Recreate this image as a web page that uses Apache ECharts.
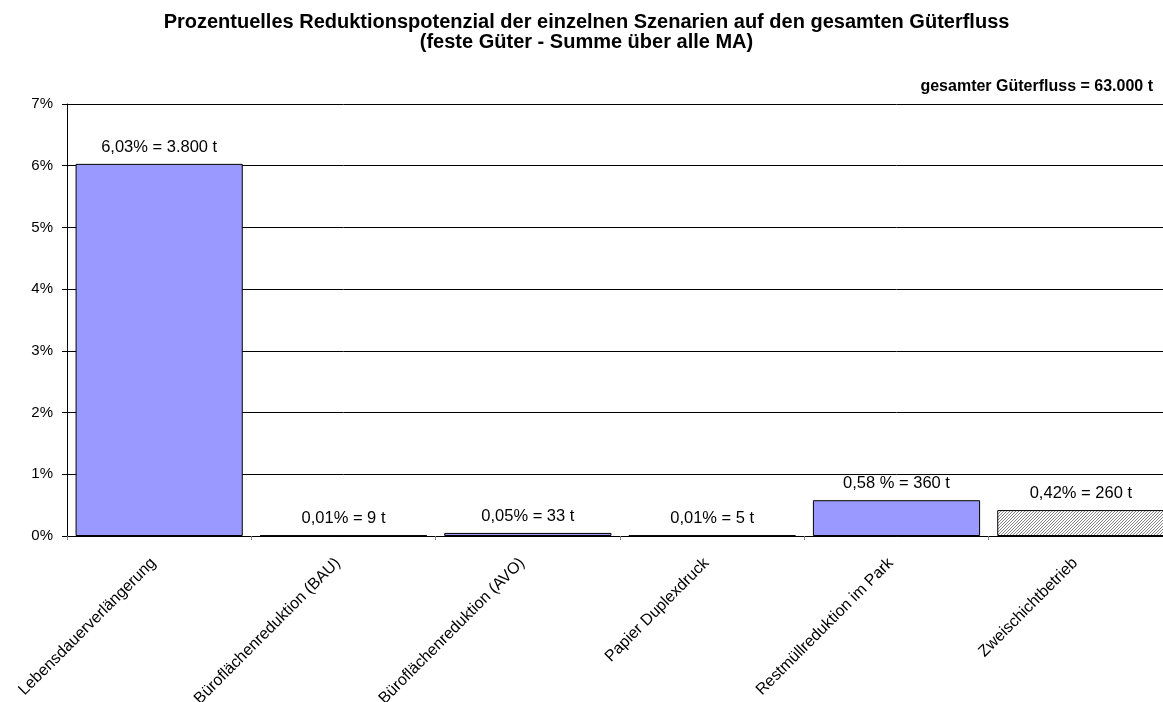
<!DOCTYPE html>
<html>
<head>
<meta charset="utf-8">
<script src="https://cdn.jsdelivr.net/npm/echarts@6/dist/echarts.min.js"></script>
<style>
  html, body { margin: 0; padding: 0; background: #ffffff; overflow: hidden; width: 1163px; height: 702px; }
  /* the plot area runs slightly past the right page edge */
  #chart { width: 1173px; height: 702px; }
</style>
</head>
<body>
<div id="chart"></div>
<script>
// Scenarios and their share of the total goods flow (percent)
const categories = [
  'Lebensdauerverlängerung',
  'Büroflächenreduktion (BAU)',
  'Büroflächenreduktion (AVO)',
  'Papier Duplexdruck',
  'Restmüllreduktion im Park',
  'Zweischichtbetrieb'
];
const percentValues = [6.03, 0.01, 0.05, 0.01, 0.58, 0.42];
const valueLabels = [
  '6,03% = 3.800 t',
  '0,01% = 9 t',
  '0,05% = 33 t',
  '0,01% = 5 t',
  '0,58 % = 360 t',
  '0,42% = 260 t'
];
const yTicks = [0, 1, 2, 3, 4, 5, 6, 7];

// Fine diagonal hatch for the shift-work scenario
function makeHatch() {
  const c = document.createElement('canvas');
  c.width = 3; c.height = 3;
  const ctx = c.getContext('2d');
  ctx.fillStyle = '#ffffff';
  ctx.fillRect(0, 0, 3, 3);
  ctx.fillStyle = '#858585';
  for (let x = 0; x < 3; x++) {
    for (let y = 0; y < 3; y++) {
      if ((x + y) % 3 === 2) ctx.fillRect(x, y, 1, 1);
    }
  }
  return c;
}
const hatch = { image: makeHatch(), repeat: 'repeat' };

const font = '"Liberation Sans", Arial, sans-serif';
const chart = echarts.init(document.getElementById('chart'), null, { renderer: 'canvas' });

chart.setOption({
  animation: false,
  backgroundColor: '#ffffff',
  textStyle: { fontFamily: font },
  title: [
    {
      text: 'Prozentuelles Reduktionspotenzial der einzelnen Szenarien auf den gesamten Güterfluss\n(feste Güter - Summe über alle MA)',
      left: 'center',
      top: 12,
      padding: 0,
      textStyle: { fontFamily: font, fontSize: 20, fontWeight: 'bold', color: '#000', lineHeight: 20, align: 'center' }
    },
    {
      text: 'gesamter Güterfluss = 63.000 t',
      right: 20,
      top: 79,
      padding: 0,
      textStyle: { fontFamily: font, fontSize: 16, fontWeight: 'bold', color: '#000', lineHeight: 16 }
    }
  ],
  grid: { left: 67, right: 0, top: 104, bottom: 166, containLabel: false, outerBoundsMode: 'none' },
  xAxis: {
    type: 'category',
    data: categories,
    axisLine: { lineStyle: { color: '#000', width: 1 } },
    axisTick: { show: true, length: 4, lineStyle: { color: '#808080' } },
    axisLabel: {
      rotate: 45,
      margin: 19,
      padding: [0, 8, 0, 0],
      fontFamily: font,
      fontSize: 16,
      color: '#000',
      interval: 0
    }
  },
  yAxis: {
    type: 'value',
    min: yTicks[0],
    max: yTicks[yTicks.length - 1],
    interval: 1,
    axisLine: { show: true, lineStyle: { color: '#000', width: 1 } },
    axisTick: { show: true, length: 5, lineStyle: { color: '#000' } },
    axisLabel: { formatter: '{value}%', fontFamily: font, fontSize: 15, color: '#000', margin: 14 },
    splitLine: { show: true, lineStyle: { color: '#000', width: 1 } }
  },
  series: [{
    type: 'bar',
    barCategoryGap: '9.3%',
    data: percentValues.map((v, i) => ({
      value: v,
      itemStyle: i === percentValues.length - 1
        ? { color: hatch, borderColor: '#000', borderWidth: 1 }
        : { color: '#9999ff', borderColor: '#000', borderWidth: 1 }
    })),
    label: {
      show: true,
      position: 'top',
      distance: 8,
      fontFamily: font,
      fontSize: 16.5,
      color: '#000',
      formatter: p => valueLabels[p.dataIndex]
    }
  }]
});
</script>
</body>
</html>
